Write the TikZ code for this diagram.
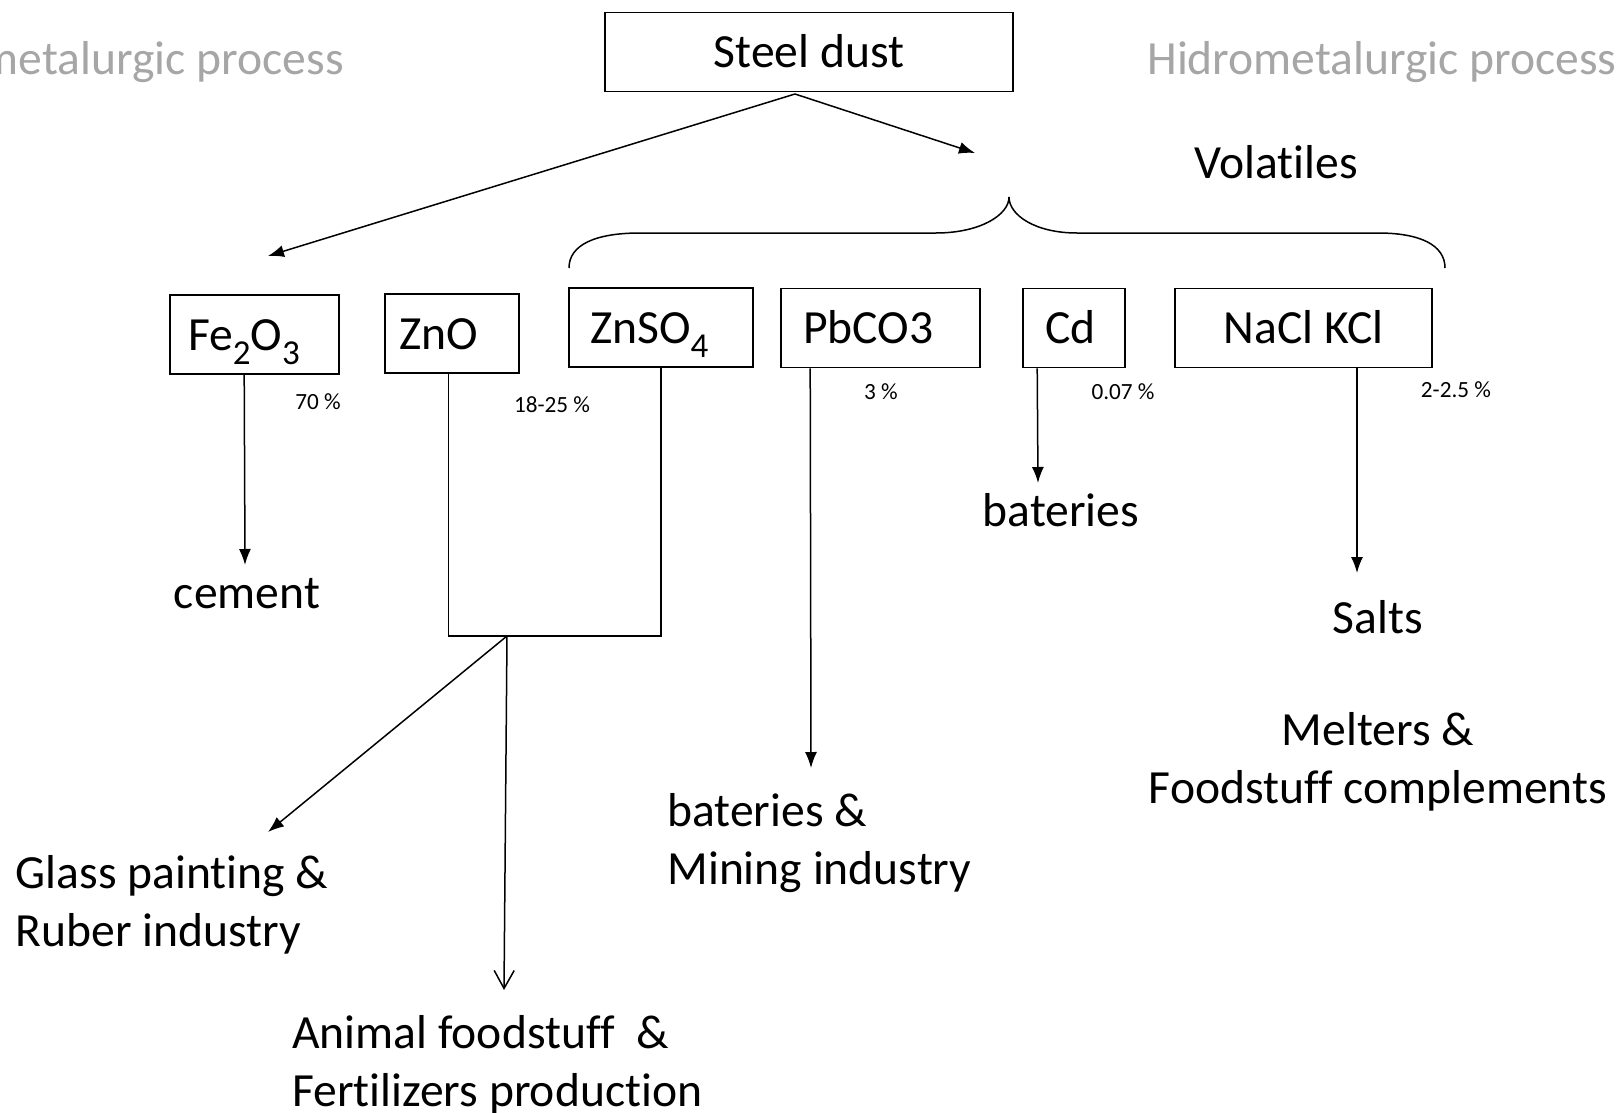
\documentclass[tikz,border=0pt]{standalone}
\usepackage{fontspec}
\setmainfont{Carlito}[Ligatures={NoCommon}]
\usetikzlibrary{arrows.meta,calc}
\newcommand{\subs}[1]{\raisebox{-7pt}{\fontsize{17.5}{17.5}\selectfont #1}}

\begin{document}
\begin{tikzpicture}[x=0.5pt, y=-0.5pt, >={Latex[length=8pt,width=6pt]},
    every node/.style={font=\fontsize{23.8}{29}\selectfont, inner sep=0pt},
    box/.style={draw, line width=0.8pt, minimum height=39.5pt, text height=15.5pt, text depth=0pt},
    note/.style={font=\fontsize{11.6}{14}\selectfont},
    side/.style={text=black!35},
    link/.style={line width=0.75pt}]
    \path[use as bounding box, fill=white] (0,0) rectangle (1617,1113);

    % 1. Steel dust and the two process labels
    \node[box, minimum width=204pt] (dust) at (809,52) {Steel dust};
    \node[side, anchor=east] (pyro) at (344,62) {Pirometalurgic process};
    \node[side, anchor=west] (hydro) at (1147,62) {Hidrometalurgic process};
    \node (vol) at (1276,162) {Volatiles};

    % 2. Compound boxes
    \node[box, inner xsep=9pt, text width=66.5pt, align=left] (fe) at (254.5,334.5) {Fe\subs{2}O\subs{3}};
    \node[box, inner xsep=7pt, text width=53pt, align=left] (zno) at (452,333.5) {ZnO};
    \node[box, inner xsep=10.5pt, text width=71pt, align=left] (znso) at (661,327.5) {ZnSO\subs{4}};
    \node[box, inner xsep=11pt, text width=77.5pt, align=left] (pb) at (880.5,328) {PbCO3};
    \node[box, inner xsep=11pt, text width=29pt, align=left] (cd) at (1074,328) {Cd};
    \node[box, minimum width=128.5pt] (nacl) at (1303.5,328) {NaCl KCl};

    % 3. Shares
    \node[note] (pFe) at (318,402) {70 \%};
    \node[note] (pZn) at (552,405) {18-25 \%};
    \node[note] (pPb) at (881,392) {3 \%};
    \node[note] (pCd) at (1123,392) {0.07 \%};
    \node[note] (pNa) at (1456,390) {2-2.5 \%};

    % 4. Uses
    \node (cement) at (247,594) {cement};
    \node (batt) at (1061,510) {bateries};
    \node (salts) at (1378,617) {Salts};
    \node[align=center] (melt) at (1378,762) {Melters \&\\Foodstuff complements};
    \node[align=left, anchor=west] (mining) at (667,843) {bateries \&\\Mining industry};
    \node[align=left, anchor=west] (glass) at (15.5,905) {Glass painting \&\\Ruber industry};
    \node[align=left, anchor=west] (animal) at (292,1065) {Animal foodstuff \ \&\\Fertilizers production};

    % 5. Connectors
    \coordinate (fork) at (795,94);
    \coordinate (feTip) at (268,256);
    \coordinate (volTip) at (975,153);
    \coordinate (mix) at (507,636);
    \draw[link, ->] (fork) -- (feTip);
    \draw[link, ->] (fork) -- (volTip);
    \draw[link] (569,268) .. controls (569,245) and (595,233) .. (640,233) -- (936,233)
        .. controls (980,233) and (1009,215) .. (1009,197)
        .. controls (1009,215) and (1035,233) .. (1077,233) -- (1378,233)
        .. controls (1420,233) and (1445,245) .. (1445,268);

    \draw[link, ->] ($(fe.south west)+(75,0)$) -- (245,565);
    \draw[link] ($(zno.south)+(-3.5,0)$) |- (mix) -| (znso.south);
    \draw[link, ->] (mix) -- (268,832);
    \draw[link, -{Straight Barb[length=9pt,width=10pt]}] (mix) -- (504,990);
    \draw[link, ->] ($(pb.south west)+(30,0)$) -- (811,768);
    \draw[link, ->] ($(cd.south west)+(15,0)$) -- (1038,483);
    \draw[link, ->] ($(nacl.south)+(53.5,0)$) -- (1357,573);
\end{tikzpicture}
\end{document}
